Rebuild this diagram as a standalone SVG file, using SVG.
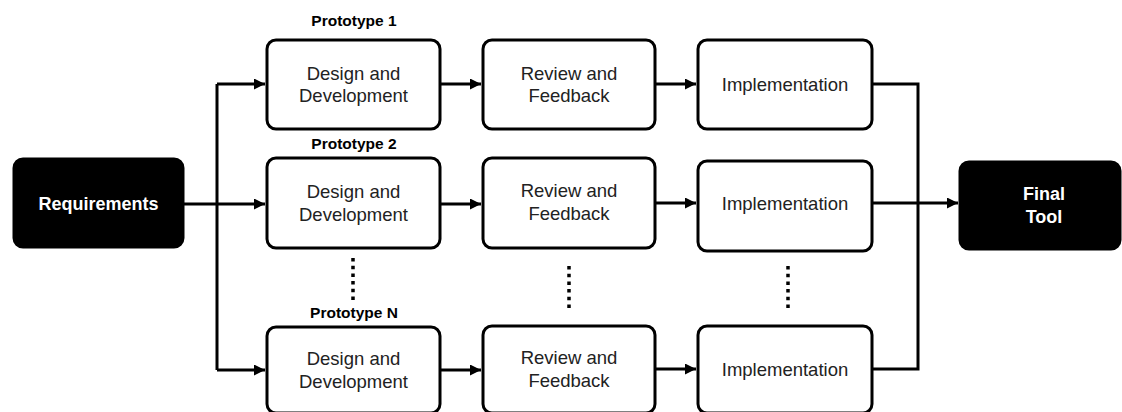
<svg xmlns="http://www.w3.org/2000/svg" width="1122" height="412" viewBox="0 0 1122 412">
  <style>
    .box { fill: #ffffff; stroke: #000000; stroke-width: 3; }
    .dark { fill: #000000; stroke: #000000; stroke-width: 3; }
    .lbl { font-family: "Liberation Sans", Arial, sans-serif; font-size: 18.5px; fill: #222222; text-anchor: middle; }
    .wlbl { font-family: "Liberation Sans", Arial, sans-serif; font-size: 18px; font-weight: bold; fill: #ffffff; text-anchor: middle; }
    .proto { font-family: "Liberation Sans", Arial, sans-serif; font-size: 15.5px; font-weight: bold; fill: #000000; text-anchor: middle; }
    .wire { fill: none; stroke: #000000; stroke-width: 3; }
    .dots { fill: none; stroke: #000000; stroke-width: 3.5; stroke-dasharray: 3.5 4.2; }
  </style>
  <defs>
    <marker id="arrow" viewBox="0 0 10 10" refX="10" refY="5" markerWidth="13" markerHeight="11" markerUnits="userSpaceOnUse" orient="auto">
      <path d="M0,0 L10,5 L0,10 Z" fill="#000000"/>
    </marker>
  </defs>

  <!-- connectors -->
  <g id="connectors">
    <path class="wire" d="M217,84 V370"/>
    <path class="wire" d="M183,204 H265" marker-end="url(#arrow)"/>
    <path class="wire" d="M217,84 H265" marker-end="url(#arrow)"/>
    <path class="wire" d="M217,370 H265" marker-end="url(#arrow)"/>

    <path class="wire" d="M440,84 H481" marker-end="url(#arrow)"/>
    <path class="wire" d="M655,84 H696" marker-end="url(#arrow)"/>
    <path class="wire" d="M440,204 H481" marker-end="url(#arrow)"/>
    <path class="wire" d="M655,203 H696" marker-end="url(#arrow)"/>
    <path class="wire" d="M440,370 H481" marker-end="url(#arrow)"/>
    <path class="wire" d="M655,369 H696" marker-end="url(#arrow)"/>

    <path class="wire" d="M872,84 H918 V369 H872"/>
    <path class="wire" d="M872,203 H958" marker-end="url(#arrow)"/>

    <!-- ellipsis between prototype rows -->
    <path class="dots" d="M353,258 V300"/>
    <path class="dots" d="M569,266 V308"/>
    <path class="dots" d="M788,266 V308"/>
  </g>

  <g id="requirements">
    <rect class="dark" x="14" y="159" width="169" height="88" rx="9"/>
    <text class="wlbl" x="98.5" y="210">Requirements</text>
  </g>

  <g id="final-tool">
    <rect class="dark" x="960" y="162" width="160" height="87" rx="9"/>
    <text class="wlbl" x="1044" y="200">Final</text>
    <text class="wlbl" x="1044" y="223">Tool</text>
  </g>

  <!-- prototype 1 -->
  <g id="proto1-label"><text class="proto" x="354" y="26">Prototype 1</text></g>
  <g id="design1">
    <rect class="box" x="267" y="40" width="173" height="89" rx="9"/>
    <text class="lbl" x="353.5" y="80">Design and</text>
    <text class="lbl" x="353.5" y="102">Development</text>
  </g>
  <g id="review1">
    <rect class="box" x="483" y="40" width="172" height="89" rx="9"/>
    <text class="lbl" x="569" y="80">Review and</text>
    <text class="lbl" x="569" y="102">Feedback</text>
  </g>
  <g id="impl1">
    <rect class="box" x="698" y="40" width="174" height="89" rx="9"/>
    <text class="lbl" x="785" y="91">Implementation</text>
  </g>

  <!-- prototype 2 -->
  <g id="proto2-label"><text class="proto" x="354" y="149">Prototype 2</text></g>
  <g id="design2">
    <rect class="box" x="267" y="158" width="173" height="90" rx="9"/>
    <text class="lbl" x="353.5" y="198">Design and</text>
    <text class="lbl" x="353.5" y="221">Development</text>
  </g>
  <g id="review2">
    <rect class="box" x="483" y="158" width="172" height="90" rx="9"/>
    <text class="lbl" x="569" y="197">Review and</text>
    <text class="lbl" x="569" y="220">Feedback</text>
  </g>
  <g id="impl2">
    <rect class="box" x="698" y="161" width="174" height="90" rx="9"/>
    <text class="lbl" x="785" y="210">Implementation</text>
  </g>

  <!-- prototype N -->
  <g id="protoN-label"><text class="proto" x="354" y="318">Prototype N</text></g>
  <g id="designN">
    <rect class="box" x="267" y="327" width="173" height="86" rx="9"/>
    <text class="lbl" x="353.5" y="365">Design and</text>
    <text class="lbl" x="353.5" y="388">Development</text>
  </g>
  <g id="reviewN">
    <rect class="box" x="483" y="326" width="172" height="87" rx="9"/>
    <text class="lbl" x="569" y="364">Review and</text>
    <text class="lbl" x="569" y="387">Feedback</text>
  </g>
  <g id="implN">
    <rect class="box" x="698" y="326" width="174" height="87" rx="9"/>
    <text class="lbl" x="785" y="376">Implementation</text>
  </g>
</svg>
